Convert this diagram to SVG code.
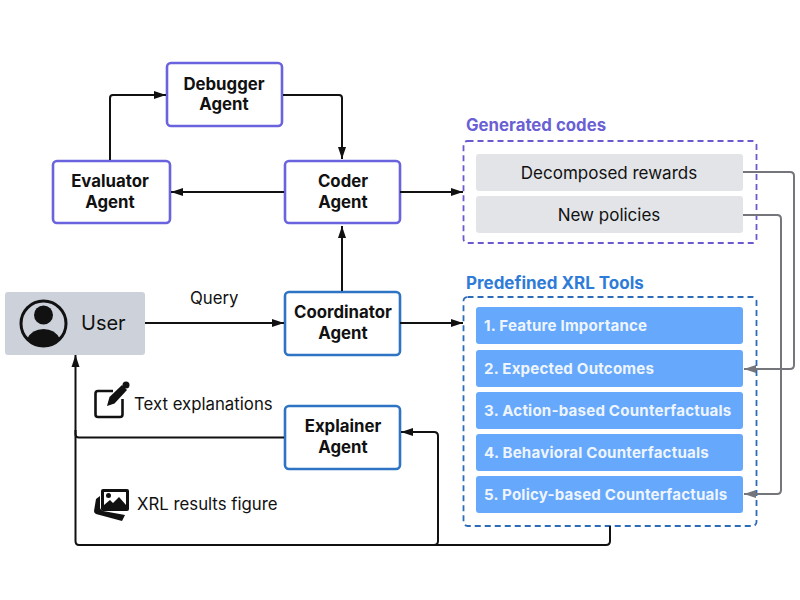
<svg xmlns="http://www.w3.org/2000/svg" width="800" height="600" viewBox="0 0 800 600">
<style>
text{font-family:Inter,"Liberation Sans",sans-serif;fill:#111}
.n{font-size:16.800px;font-weight:700;text-anchor:middle}
.p{fill:#fff;stroke:#6a63de;stroke-width:2.600}
.b{fill:#fff;stroke:#2f74c4;stroke-width:2.600}
.l{fill:none;stroke:#111;stroke-width:2}
.g{fill:none;stroke:#74767c;stroke-width:2}
.t{fill:#66a8fb}
.tt{fill:#eef5ff;font-size:15.100px;font-weight:700;letter-spacing:.2px}
.c{fill:#e2e4e8}
.ct{font-size:17px;text-anchor:middle}
.lab{font-size:16.800px}
</style>
<defs>
<marker id="a" markerUnits="userSpaceOnUse" markerWidth="14" markerHeight="10" refX="12" refY="5" orient="auto"><path d="M0 1L12 5L0 9Z" fill="#111"/></marker>
<marker id="ag" markerUnits="userSpaceOnUse" markerWidth="14" markerHeight="10" refX="12" refY="5" orient="auto"><path d="M0 1L12 5L0 9Z" fill="#74767c"/></marker>
</defs>
<rect width="800" height="600" fill="#fff"/>
<g id="evaluator"><rect class="p" x="53" y="161" width="117" height="62" rx="4"/><text class="n" x="110" y="187">Evaluator</text><text class="n" x="110" y="208">Agent</text></g>
<g id="debugger"><rect class="p" x="167" y="63" width="115" height="63" rx="4"/><text class="n" x="224" y="90">Debugger</text><text class="n" x="224" y="110">Agent</text></g>
<g id="coder"><rect class="p" x="285" y="161" width="115" height="62" rx="4"/><text class="n" x="343" y="187">Coder</text><text class="n" x="343" y="208">Agent</text></g>
<g id="coordinator"><rect class="b" x="285" y="292" width="115" height="63" rx="4"/><text class="n" x="343" y="318">Coordinator</text><text class="n" x="343" y="339">Agent</text></g>
<g id="explainer"><rect class="b" x="285" y="406" width="115" height="63" rx="4"/><text class="n" x="343" y="432">Explainer</text><text class="n" x="343" y="453">Agent</text></g>
<g id="user"><rect x="5" y="292" width="140" height="63" rx="3" fill="#cdd2da"/>
<circle cx="43.500" cy="323.500" r="22.500" fill="none" stroke="#111" stroke-width="3"/>
<circle cx="43.500" cy="315" r="9.500" fill="#111"/>
<path d="M27 339Q32 329 43.500 329Q55 329 60 339Q53 346 43.500 346Q34 346 27 339Z" fill="#111"/>
<text x="81" y="330" font-size="20">User</text></g>
<g id="generated"><rect x="463.500" y="141" width="293" height="102" rx="4" fill="#fff" stroke="#6a5ad0" stroke-width="1.800" stroke-dasharray="6 4"/>
<text x="466" y="131" font-size="16.800" font-weight="700" style="fill:#6a5fd4">Generated codes</text>
<rect class="c" x="476" y="154" width="267" height="37" rx="3"/><text class="ct" x="609" y="179">Decomposed rewards</text>
<rect class="c" x="476" y="196" width="267" height="37" rx="3"/><text class="ct" x="609" y="221">New policies</text></g>
<g id="predefined"><rect x="463.500" y="297" width="293" height="229" rx="4" fill="#fff" stroke="#2c6bb8" stroke-width="1.800" stroke-dasharray="6 4"/>
<text x="466" y="289" font-size="17" font-weight="700" style="fill:#2f7bd8">Predefined XRL Tools</text>
<rect class="t" x="476" y="307" width="267" height="37" rx="3"/><text class="tt" x="484" y="331">1. Feature Importance</text>
<rect class="t" x="476" y="350" width="267" height="37" rx="3"/><text class="tt" x="484" y="374">2. Expected Outcomes</text>
<rect class="t" x="476" y="392" width="267" height="37" rx="3"/><text class="tt" x="484" y="416">3. Action-based Counterfactuals</text>
<rect class="t" x="476" y="434" width="267" height="37" rx="3"/><text class="tt" x="484" y="458">4. Behavioral Counterfactuals</text>
<rect class="t" x="476" y="476" width="267" height="37" rx="3"/><text class="tt" x="484" y="500">5. Policy-based Counterfactuals</text></g>
<g id="connectors">
<path class="l" marker-end="url(#a)" d="M110 160V98Q110 95 113 95H166"/>
<path class="l" marker-end="url(#a)" d="M283 95H339Q342 95 342 98V159"/>
<path class="l" marker-end="url(#a)" d="M284 192H171"/>
<path class="l" marker-end="url(#a)" d="M400 192H463"/>
<path class="l" marker-end="url(#a)" d="M342 291V226"/>
<path class="l" marker-end="url(#a)" d="M145 323H284"/>
<path class="l" marker-end="url(#a)" d="M400 323H463"/>
<path class="l" d="M284 437.500H79Q75.500 437.500 75.500 434V430"/>
<path class="l" marker-end="url(#a)" d="M610 526V541Q610 545 606 545H79Q75.500 545 75.500 541V355"/>
<path class="l" marker-end="url(#a)" d="M434 545Q438 545 438 541V436Q438 432 434 432H401"/>
<path class="g" marker-end="url(#ag)" d="M743 172H790Q794 172 794 176V365Q794 369 790 369H744"/>
<path class="g" marker-end="url(#ag)" d="M743 215H777Q781 215 781 219V490Q781 494 777 494H744"/>
</g>
<g id="labels">
<text class="lab" x="190" y="304">Query</text>
<text class="lab" x="134" y="410">Text explanations</text>
<text class="lab" x="137" y="510">XRL results figure</text>
<path d="M113 391H98Q95.500 391 95.500 393.500V414.500Q95.500 417 98 417H120Q122.500 417 122.500 414.500V399" fill="none" stroke="#111" stroke-width="2.600"/>
<path d="M107 406L109.500 397L122 385L127 390L114.500 403.500Z" fill="#111"/>
<circle cx="126" cy="385" r="3.500" fill="#111"/>
<path d="M96 499L94 511Q94 513 96 514L122 521L125 515L103 511Q100 510 100 507L100 496Z" fill="#111"/>
<rect x="101" y="489" width="28" height="22" rx="2" fill="#111"/>
<path d="M104 492H126V505L119 497L113 503L110 500L104 505Z" fill="#fff"/>
<circle cx="108.500" cy="495.500" r="2.500" fill="#111"/>
</g>
</svg>
